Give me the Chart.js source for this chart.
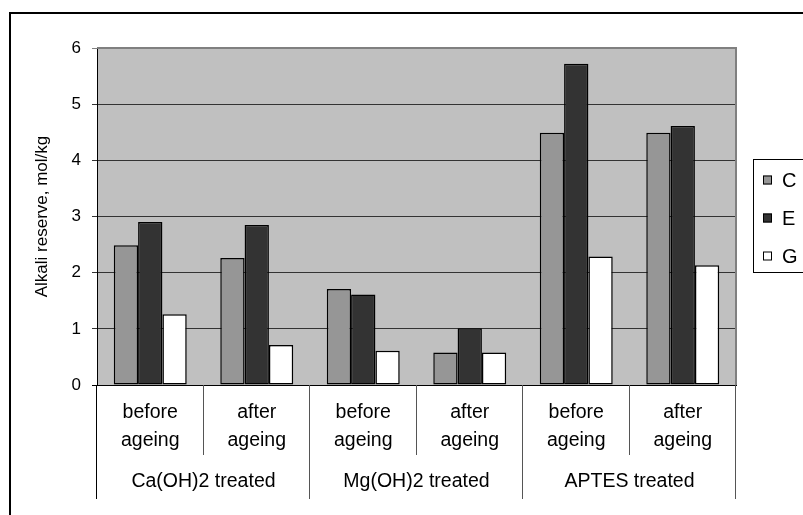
<!DOCTYPE html>
<html lang="en">
<head>
  <meta charset="UTF-8">
  <title>Alkali reserve</title>
  <script src="https://cdn.jsdelivr.net/npm/chart.js"></script>
  <style>
    body { margin: 0; background: #fff; }
    #wrap { width: 803px; height: 515px; }
  </style>
</head>
<body>
  <div id="wrap"><canvas id="alkaliChart"></canvas></div>

  <script>
    const subLabels = [['before', 'ageing'], ['after', 'ageing'], ['before', 'ageing'],
                       ['after', 'ageing'], ['before', 'ageing'], ['after', 'ageing']];
    const groupLabels = ['Ca(OH)2 treated', 'Mg(OH)2 treated', 'APTES treated'];
    const seriesNames = ['C', 'E', 'G'];
    const valuesC = [2.49, 2.26, 1.71, 0.58, 4.49, 4.49];
    const valuesE = [2.90, 2.85, 1.61, 1.01, 5.72, 4.61];
    const valuesG = [1.26, 0.71, 0.61, 0.58, 2.29, 2.13];
    const seriesColors = ['#969696', '#333333', '#ffffff'];
    const yMin = 0, yMax = 6, yStep = 1;

    const FONT = '"Liberation Sans", Arial, sans-serif';

    // plot background, frame, category separators, group names and legend
    const decor = {
      id: 'decor',
      beforeDraw(chart) {
        const { ctx, chartArea: a } = chart;
        ctx.save();
        ctx.fillStyle = '#c0c0c0';
        ctx.fillRect(a.left, a.top, a.right - a.left, a.bottom - a.top);
        ctx.strokeStyle = '#000';
        ctx.lineWidth = 2;
        ctx.strokeRect(10, 13, 900, 600);
        ctx.restore();
      },
      afterDraw(chart) {
        const { ctx, chartArea: a } = chart;
        const x = chart.scales.x;
        const n = subLabels.length;
        const step = (a.right - a.left) / n;
        ctx.save();
        ctx.lineWidth = 1;

        // separators under the axis
        for (let i = 0; i <= n; i++) {
          const px = Math.round(a.left + i * step) - 0.5;
          ctx.strokeStyle = (i === 0) ? '#000' : '#555';
          ctx.beginPath();
          ctx.moveTo(px, a.bottom);
          ctx.lineTo(px, i % 2 === 0 ? 499 : 455);
          ctx.stroke();
        }

        // group names
        ctx.fillStyle = '#000';
        ctx.font = '19.5px ' + FONT;
        ctx.textAlign = 'center';
        ctx.textBaseline = 'middle';
        groupLabels.forEach((g, i) => {
          const cx = (x.getPixelForValue(i * 2) + x.getPixelForValue(i * 2 + 1)) / 2;
          ctx.fillText(g, cx, 482);
        });

        // grey plot frame on top and right
        ctx.strokeStyle = '#808080';
        ctx.lineWidth = 2;
        ctx.beginPath();
        ctx.moveTo(a.left, a.top);
        ctx.lineTo(a.right, a.top);
        ctx.lineTo(a.right, a.bottom);
        ctx.stroke();

        // legend
        ctx.lineWidth = 1;
        ctx.strokeStyle = '#000';
        ctx.strokeRect(753.5, 159.5, 80, 113);
        ctx.font = '20px ' + FONT;
        ctx.textAlign = 'left';
        chart.data.datasets.forEach((ds, i) => {
          const cy = 180 + i * 38;
          ctx.fillStyle = ds.backgroundColor;
          ctx.fillRect(763, cy - 4.5, 9, 9);
          ctx.strokeRect(763.5, cy - 4, 8, 8);
          ctx.fillStyle = '#000';
          ctx.fillText(ds.label, 782, cy + 1);
        });
        ctx.restore();
      }
    };

    const ctx = document.getElementById('alkaliChart').getContext('2d');
    new Chart(ctx, {
      type: 'bar',
      data: {
        labels: subLabels,
        datasets: [valuesC, valuesE, valuesG].map((vals, i) => ({
          label: seriesNames[i],
          data: vals,
          backgroundColor: seriesColors[i],
          borderColor: '#000',
          borderWidth: 1.5,
          borderSkipped: false
        }))
      },
      options: {
        responsive: true,
        maintainAspectRatio: false,
        animation: false,
        layout: { padding: { left: 0, top: 48, right: 67, bottom: 0 } },
        datasets: { bar: { barPercentage: 1, categoryPercentage: 0.685 } },
        plugins: {
          legend: { display: false },
          tooltip: { enabled: false }
        },
        scales: {
          x: {
            grid: { display: false, drawTicks: false },
            border: { display: true, color: '#000' },
            ticks: {
              color: '#000',
              padding: 14,
              maxRotation: 0,
              autoSkip: false,
              font: { family: FONT, size: 19.5, lineHeight: 28 / 19.5 }
            },
            afterFit(scale) { scale.height = 130; }
          },
          y: {
            min: yMin,
            max: yMax,
            ticks: {
              stepSize: yStep,
              color: '#000',
              padding: 11,
              font: { family: FONT, size: 17 }
            },
            grid: {
              tickLength: 5,
              color: c => c.tick.value === yMax ? '#808080' : (c.tick.value === yMin ? '#000' : '#333')
            },
            border: { display: true, color: '#000' },
            title: {
              display: true,
              text: 'Alkali reserve, mol/kg',
              color: '#000',
              padding: { top: 32, bottom: 0 },
              font: { family: FONT, size: 17 }
            },
            afterFit(scale) { scale.width = 97; }
          }
        }
      },
      plugins: [decor]
    });
  </script>
</body>
</html>
